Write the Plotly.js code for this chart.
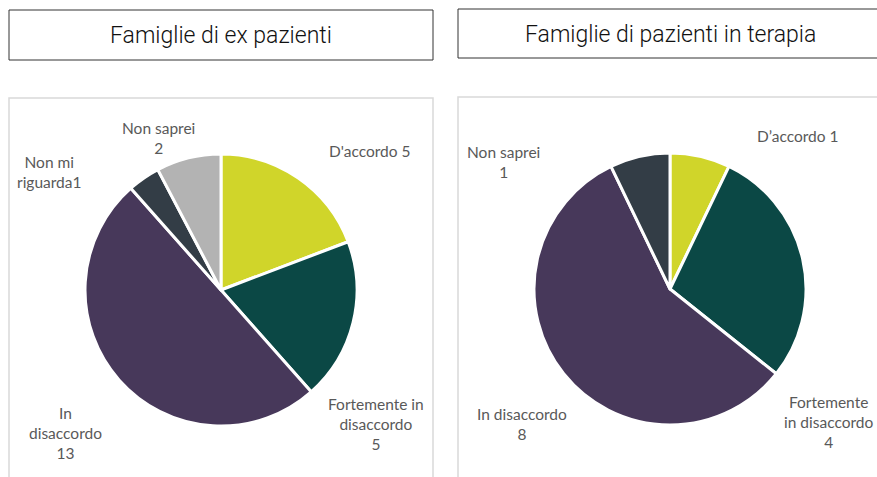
<!DOCTYPE html>
<html>
<head>
<meta charset="utf-8">
<script src="https://cdn.plot.ly/plotly-3.0.1.min.js"></script>
<style>html,body{margin:0;padding:0;background:#fff;}#chart{width:877px;height:477px;}</style>
</head>
<body>
<div id="chart"></div>
<script>
// Data
const titleLeft = "Famiglie di ex pazienti";
const titleRight = "Famiglie di pazienti in terapia";

const leftLabels = ["D'accordo", "Fortemente in disaccordo", "In disaccordo", "Non mi riguarda", "Non saprei"];
const leftValues = [5, 5, 13, 1, 2];
const leftColors = ["#D0D52A", "#0B4845", "#47385A", "#333D46", "#B3B3B3"];
// how each label is displayed (line breaks as in the picture)
const leftText = ["D'accordo 5", "Fortemente in<br>disaccordo<br>5", "In<br>disaccordo<br>13", "Non mi<br>riguarda1", "Non saprei<br>2"];

const rightLabels = ["D\u2019accordo", "Fortemente in disaccordo", "In disaccordo", "Non saprei"];
const rightValues = [1, 4, 8, 1];
const rightColors = ["#D0D52A", "#0B4845", "#47385A", "#333D46"];
const rightText = ["D\u2019accordo 1", "Fortemente<br>in disaccordo<br>4", "In disaccordo<br>8", "Non saprei<br>1"];

// Layout helpers (pixel -> paper)
const W = 877, H = 477;
const px = x => x / W;
const py = y => 1 - y / H;

// label positions (center px) for each slice
const leftPos = [[370, 151], [376, 424], [65, 433], [49, 172], [158, 138]];
const rightPos = [[797, 136], [828, 422], [522, 424], [503, 162]];

const labelFont = {family: "Lato, Carlito, 'Liberation Sans', sans-serif", size: 15.5, color: "#595959"};

function pieTrace(labels, values, colors, x0, x1, y0, y1) {
  return {
    type: "pie",
    labels: labels,
    values: values,
    sort: false,
    direction: "clockwise",
    rotation: 0,
    marker: {colors: colors, line: {color: "#ffffff", width: 3}},
    textinfo: "none",
    hoverinfo: "label+value",
    showlegend: false,
    domain: {x: [px(x0), px(x1)], y: [py(y1), py(y0)]}
  };
}

const data = [
  pieTrace(leftLabels, leftValues, leftColors, 85, 357, 154, 426),
  pieTrace(rightLabels, rightValues, rightColors, 534, 806, 153, 425)
];

const annotations = [];
leftText.forEach((t, i) => annotations.push({
  xref: "paper", yref: "paper", x: px(leftPos[i][0]), y: py(leftPos[i][1]),
  text: t, showarrow: false, font: labelFont, align: "center", xanchor: "center", yanchor: "middle"
}));
rightText.forEach((t, i) => annotations.push({
  xref: "paper", yref: "paper", x: px(rightPos[i][0]), y: py(rightPos[i][1]),
  text: t, showarrow: false, font: labelFont, align: "center", xanchor: "center", yanchor: "middle"
}));
const titleFont = {family: "Roboto, 'DejaVu Sans', sans-serif", size: 23, weight: 300, color: "#111111"};
annotations.push({xref: "paper", yref: "paper", x: px(221), y: py(35), text: titleLeft, showarrow: false, font: titleFont, xanchor: "center", yanchor: "middle"});
annotations.push({xref: "paper", yref: "paper", x: px(670), y: py(34), text: titleRight, showarrow: false, font: titleFont, xanchor: "center", yanchor: "middle"});

const shapes = [
  // panel borders
  {type: "rect", xref: "paper", yref: "paper", x0: px(9), x1: px(433), y0: py(490), y1: py(98), line: {color: "#D9D9D9", width: 1.5}},
  {type: "rect", xref: "paper", yref: "paper", x0: px(458), x1: px(890), y0: py(490), y1: py(97), line: {color: "#D9D9D9", width: 1.5}},
  // title boxes
  {type: "rect", xref: "paper", yref: "paper", x0: px(9), x1: px(433), y0: py(60), y1: py(10), line: {color: "#333333", width: 1}},
  {type: "rect", xref: "paper", yref: "paper", x0: px(458), x1: px(890), y0: py(58), y1: py(9), line: {color: "#333333", width: 1}}
];

const layout = {
  width: W, height: H,
  margin: {l: 0, r: 0, t: 0, b: 0},
  paper_bgcolor: "#ffffff",
  plot_bgcolor: "#ffffff",
  showlegend: false,
  annotations: annotations,
  shapes: shapes
};

Plotly.newPlot("chart", data, layout, {displayModeBar: false, staticPlot: true});
</script>
</body>
</html>
